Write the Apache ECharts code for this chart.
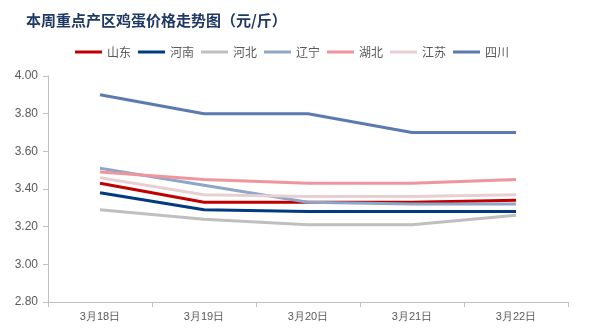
<!DOCTYPE html>
<html><head><meta charset="utf-8">
<script src="https://cdn.jsdelivr.net/npm/echarts@6/dist/echarts.min.js"></script>
<style>html,body{margin:0;padding:0;background:#fff}#c{width:589px;height:334px}</style>
</head><body><div id="c"></div>
<script>
var categories = ['3月18日','3月19日','3月20日','3月21日','3月22日'];
var seriesNames = ['山东','河南','河北','辽宁','湖北','江苏','四川'];
var shandong = [3.43, 3.33, 3.33, 3.33, 3.34];
var henan    = [3.38, 3.29, 3.28, 3.28, 3.28];
var hebei    = [3.29, 3.24, 3.21, 3.21, 3.26];
var liaoning = [3.51, 3.42, 3.33, 3.32, 3.32];
var hubei    = [3.49, 3.45, 3.43, 3.43, 3.45];
var jiangsu  = [3.46, 3.37, 3.36, 3.36, 3.37];
var sichuan  = [3.90, 3.80, 3.80, 3.70, 3.70];
var colors = ['#C00000','#003A80','#BFBFBF','#8EA6C8','#F0959E','#E8CFD2','#5B7BAE'];
var values = [shandong, henan, hebei, liaoning, hubei, jiangsu, sichuan];

var chart = echarts.init(document.getElementById('c'));
chart.setOption({
  animation: false,
  title: {
    text: '本周重点产区鸡蛋价格走势图（元/斤）',
    left: 21, top: 8,
    textStyle: {color: '#1F3864', fontSize: 15, fontWeight: 'bold', fontFamily: 'Noto Sans CJK SC'}
  },
  legend: {
    top: 41, left: 70,
    itemWidth: 27, itemHeight: 3, itemGap: 7,
    icon: 'rect',
    textStyle: {color: '#595959', fontSize: 12, fontFamily: 'Noto Sans CJK SC'},
    data: seriesNames
  },
  grid: {left: 48, right: 21, top: 76, bottom: 32},
  xAxis: {
    type: 'category', data: categories, boundaryGap: true,
    axisLine: {lineStyle: {color: '#BFBFBF'}},
    axisTick: {show: true, length: 5, lineStyle: {color: '#BFBFBF'}},
    axisLabel: {color: '#595959', fontSize: 11, margin: 9}
  },
  yAxis: {
    type: 'value', min: 2.8, max: 4.0, interval: 0.2,
    axisLine: {show: true, lineStyle: {color: '#BFBFBF'}},
    axisTick: {show: true, length: 5, lineStyle: {color: '#BFBFBF'}},
    splitLine: {show: false},
    axisLabel: {color: '#595959', fontSize: 12, margin: 10, formatter: function(v){return v.toFixed(2);}}
  },
  series: seriesNames.map(function(n, i){
    return {name: n, type: 'line', data: values[i], symbol: 'none',
      lineStyle: {width: 3, color: colors[i]}, itemStyle: {color: colors[i]}};
  })
});
</script></body></html>
